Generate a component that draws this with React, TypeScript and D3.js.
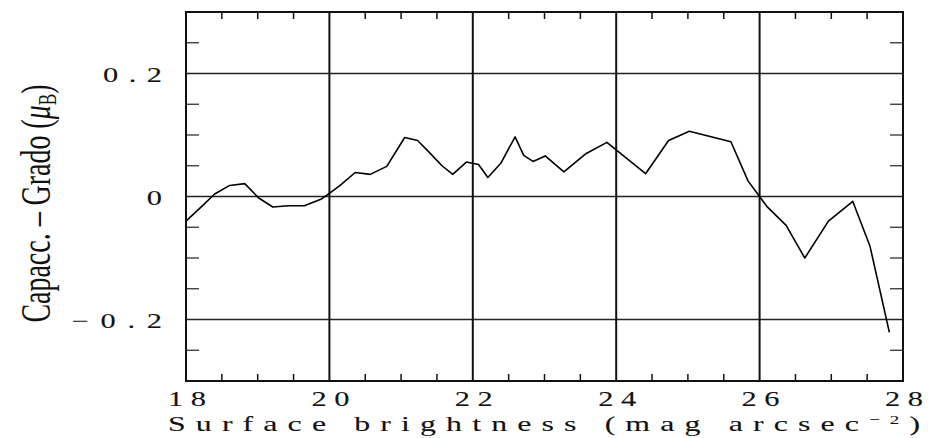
import React from 'react';
import * as d3 from 'd3';

// surface brightness (mag arcsec^-2) and Capacc. - Grado difference
const sbValues = [18.0, 18.22, 18.4, 18.61, 18.82, 19.01, 19.21, 19.43, 19.65, 19.89, 20.0, 20.15, 20.36, 20.57, 20.8, 21.05, 21.23, 21.4, 21.57, 21.72, 21.91, 22.08, 22.21, 22.39, 22.59, 22.71, 22.84, 23.01, 23.27, 23.57, 23.87, 24.41, 24.73, 25.02, 25.6, 25.84, 26.0, 26.1, 26.37, 26.63, 26.96, 27.3, 27.54, 27.81];
const diffValues = [-0.04, -0.016, 0.004, 0.018, 0.021, -0.002, -0.017, -0.015, -0.015, -0.004, 0.005, 0.018, 0.039, 0.036, 0.049, 0.096, 0.091, 0.071, 0.05, 0.036, 0.056, 0.052, 0.031, 0.054, 0.097, 0.067, 0.057, 0.066, 0.04, 0.069, 0.088, 0.037, 0.091, 0.106, 0.089, 0.025, 0.0, -0.016, -0.047, -0.1, -0.04, -0.008, -0.081, -0.221];

const xTickLabels = ['18', '20', '22', '24', '26', '28'];
const xGridValues = [20, 22, 24, 26];
const yTickValues = [0.2, 0, -0.2];
const yTickLabels = ['0.2', '0', '\u22120.2'];

const W = 928;
const H = 438;
const left = 186;
const right = 903;
const top = 12;
const bottom = 381;

const serif = '"Liberation Serif", "DejaVu Serif", serif';
const SX = 1.45; // horizontal stretch for the wide plot font
const CHAR_W = 21; // spacing per character in the old plot font

// wide, spaced serif label like the old plotting package
const WideText = ({ x, y, anchor, size, children, length }: any) => (
  <g transform={`translate(${x},${y}) scale(${SX},1)`}>
    <text x={0} y={0} textAnchor={anchor} fontFamily={serif} fontSize={size}
      fill="#111" stroke="#111" strokeWidth={0.1}
      textLength={length / SX} lengthAdjust="spacing">
      {children}
    </text>
  </g>
);

const App = () => {
  const x = d3.scaleLinear().domain([18, 28]).range([left, right]);
  const y = d3.scaleLinear().domain([-0.3, 0.3]).range([bottom, top]);

  const line = d3.line<number>()
    .x((d, i) => x(sbValues[i]))
    .y(d => y(d));

  const xMinor = d3.range(18.5, 28, 0.5).filter(v => Math.abs(v - Math.round(v / 2) * 2) > 0.01);
  const yMinor = d3.range(-0.25, 0.3, 0.05).filter(v => Math.abs(v * 10 - Math.round(v * 10)) > 0.01 || Math.abs(Math.round(v * 10)) % 2 === 1);

  const labelLen = (t: string) => (t.length + (t.startsWith('\u2212') ? 0.5 : 0)) * CHAR_W - 4;

  return (
    <svg width={W} height={H} style={{ position: 'absolute', left: 0, top: 0 }}>
      <rect width={W} height={H} fill="#fff" />

      {/* horizontal grid */}
      {yTickValues.map(v => (
        <line key={'hy' + v} x1={left} x2={right} y1={y(v)} y2={y(v)} stroke="#222" strokeWidth={1.3} />
      ))}
      {/* vertical grid */}
      {xGridValues.map(v => (
        <line key={'vx' + v} x1={x(v)} x2={x(v)} y1={top} y2={bottom} stroke="#111" strokeWidth={2} />
      ))}

      {/* minor ticks */}
      {xMinor.map(v => (
        <g key={'xm' + v}>
          <line x1={x(v)} x2={x(v)} y1={top} y2={top + 7} stroke="#111" strokeWidth={1.5} />
          <line x1={x(v)} x2={x(v)} y1={bottom} y2={bottom - 7} stroke="#111" strokeWidth={1.5} />
        </g>
      ))}
      {yMinor.map(v => (
        <g key={'ym' + v}>
          <line x1={left} x2={left + 13} y1={y(v)} y2={y(v)} stroke="#333" strokeWidth={1.3} />
          <line x1={right} x2={right - 13} y1={y(v)} y2={y(v)} stroke="#333" strokeWidth={1.3} />
        </g>
      ))}

      <path d={line(diffValues) ?? ''} fill="none" stroke="#000" strokeWidth={1.6} strokeLinejoin="round" />

      <rect x={left} y={top} width={right - left} height={bottom - top} fill="none" stroke="#111" strokeWidth={2} />

      {/* x tick labels */}
      {xTickLabels.map(t => (
        <WideText key={'xt' + t} x={x(+t) + 1} y={406} anchor="middle" size={21} length={labelLen(t)}>{t}</WideText>
      ))}
      {/* y tick labels */}
      {yTickLabels.map((t, i) => (
        <WideText key={'yt' + t} x={162} y={y(yTickValues[i]) + 8} anchor="end" size={21} length={labelLen(t)}>{t}</WideText>
      ))}

      <WideText x={168} y={431} anchor="start" size={22} length={752}>
        Surface brightness (mag arcsec<tspan dy={-7} fontSize={13}>{'\u22122'}</tspan><tspan dy={7}>)</tspan>
      </WideText>

      <g transform="translate(50,203.5) rotate(-90)">
        <text x={0} y={0} textAnchor="middle" fontFamily={serif} fontSize={42} fill="#111" textLength={238} lengthAdjust="spacingAndGlyphs">
          Capacc. {'\u2013'} Grado (<tspan fontStyle="italic">{'\u03bc'}</tspan><tspan dy={6} fontSize={26}>B</tspan><tspan dy={-6}>)</tspan>
        </text>
      </g>
    </svg>
  );
};

export default App;
